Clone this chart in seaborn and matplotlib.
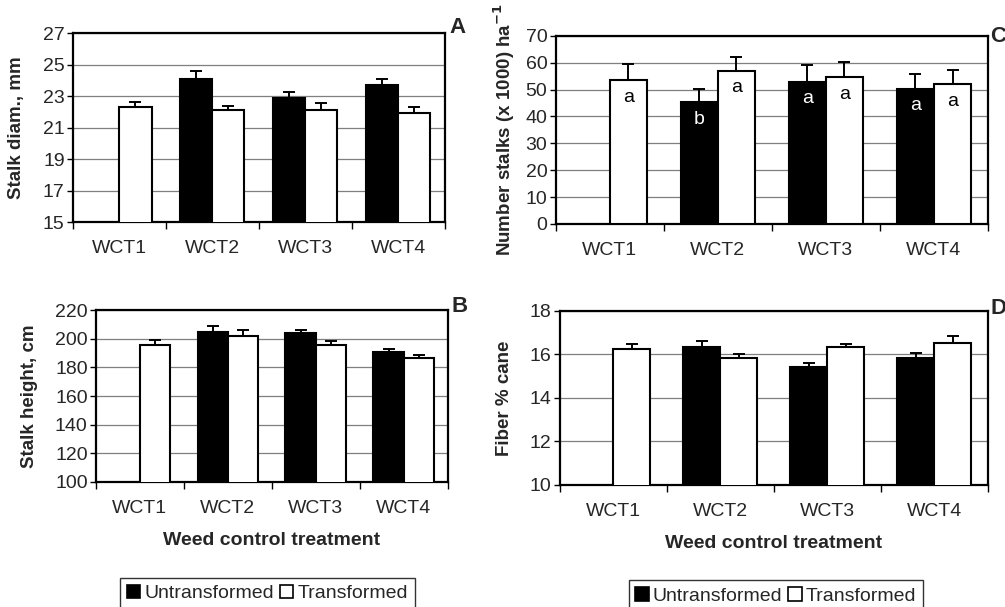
import matplotlib
matplotlib.use("Agg")
import matplotlib.pyplot as plt
from matplotlib.patches import Patch
from matplotlib.container import BarContainer
from matplotlib.ticker import FixedLocator
import seaborn as sns
import pandas as pd
import numpy as np

sns.set_theme(style="ticks")
plt.rcParams['font.family'] = ['Liberation Sans', 'DejaVu Sans']

# Data (None = no bar)
treatments = ["WCT1", "WCT2", "WCT3", "WCT4"]
groups = ["Untransformed", "Transformed"]

diam_untr = [None, 24.1, 22.9, 23.75]
diam_tran = [22.35, 22.1, 22.15, 21.95]
diam_err_untr = [None, 0.5, 0.4, 0.35]
diam_err_tran = [0.3, 0.3, 0.45, 0.4]

height_untr = [None, 204.5, 204.0, 191.0]
height_tran = [195.5, 202.0, 196.0, 186.3]
height_err_untr = [None, 4.5, 2.5, 2.2]
height_err_tran = [3.5, 4.0, 2.2, 2.6]

stalks_untr = [None, 45.3, 53.0, 50.4]
stalks_tran = [53.4, 57.0, 54.7, 52.1]
stalks_err_untr = [None, 5.0, 6.1, 5.3]
stalks_err_tran = [6.0, 5.2, 5.6, 5.0]
stalks_letters_untr = [None, "b", "a", "a"]
stalks_letters_tran = ["a", "a", "a", "a"]

fiber_untr = [None, 16.33, 15.43, 15.81]
fiber_tran = [16.24, 15.81, 16.32, 16.53]
fiber_err_untr = [None, 0.27, 0.17, 0.25]
fiber_err_tran = [0.23, 0.19, 0.15, 0.31]

FS = 14


def make_df(untr, tran, err_u, err_t):
    rows = []
    for i, t in enumerate(treatments):
        if untr[i] is not None:
            rows.append((t, "Untransformed", untr[i], err_u[i]))
        if tran[i] is not None:
            rows.append((t, "Transformed", tran[i], err_t[i]))
    return pd.DataFrame(rows, columns=["treatment", "type", "value", "err"])


def draw_panel(ax, df, ylim, yticks, ylabel, xlabel=None, letters=None):
    sns.barplot(data=df, x="treatment", y="value", hue="type",
                order=treatments, hue_order=groups,
                palette={"Untransformed": "black", "Transformed": "white"},
                edgecolor="black", linewidth=1.5, width=0.69,
                errorbar=None, legend=False, ax=ax, zorder=3)
    bars = [b for c in ax.containers if isinstance(c, BarContainer) for b in c]
    # one-sided error bars and letters, matched to bars by position
    for bar in bars:
        h = bar.get_height()
        if np.isnan(h):
            continue
        xc = bar.get_x() + bar.get_width() / 2
        ci = int(round(xc))
        gname = "Untransformed" if xc < ci else "Transformed"
        row = df[(df.treatment == treatments[ci]) & (df.type == gname)]
        e = row.err.values[0]
        ax.errorbar(xc, bar.get_y() + h, yerr=[[0], [e]], fmt="none",
                    ecolor="black", elinewidth=1.4, capsize=4.5,
                    capthick=1.4, zorder=4)
        if letters is not None:
            lab = letters[gname][ci]
            if lab:
                ax.text(xc, h - 3.2, lab, ha="center", va="top",
                        fontsize=FS,
                        color="white" if gname == "Untransformed" else "black",
                        zorder=5)
    ax.set_ylim(*ylim)
    ax.set_yticks(yticks)
    ax.set_xlim(-0.5, 3.5)
    ax.yaxis.grid(True, color="#7f7f7f", linewidth=0.9, zorder=0)
    ax.xaxis.grid(False)
    ax.set_axisbelow(True)
    for s in ax.spines.values():
        s.set_visible(True)
        s.set_color("black")
        s.set_linewidth(1.6)
    ax.tick_params(axis="y", labelsize=FS, length=4, width=1, pad=2,
                   color="black")
    ax.tick_params(axis="x", which="major", labelsize=FS, length=0, pad=13)
    ax.xaxis.set_minor_locator(FixedLocator([-0.5, 0.5, 1.5, 2.5, 3.5]))
    ax.tick_params(axis="x", which="minor", length=5, width=1,
                   direction="out", color="black")
    ax.set_ylabel(ylabel, fontsize=13.5, fontweight="bold")
    if xlabel:
        ax.set_xlabel(xlabel, fontsize=14, fontweight="bold", labelpad=11)
    else:
        ax.set_xlabel("")


fig = plt.figure(figsize=(10.05, 6.07), dpi=100)
fig.patch.set_facecolor("white")

axA = fig.add_axes([0.0726, 0.634, 0.370, 0.311])
axC = fig.add_axes([0.553, 0.631, 0.430, 0.310])
axB = fig.add_axes([0.0955, 0.206, 0.350, 0.283])
axD = fig.add_axes([0.557, 0.201, 0.426, 0.287])

draw_panel(axA, make_df(diam_untr, diam_tran, diam_err_untr, diam_err_tran),
           (15, 27), [15, 17, 19, 21, 23, 25, 27], "Stalk diam., mm")
draw_panel(axC, make_df(stalks_untr, stalks_tran, stalks_err_untr, stalks_err_tran),
           (0, 70), [0, 10, 20, 30, 40, 50, 60, 70],
           "Number stalks (x 1000) ha$^{\\mathbf{-1}}$",
           letters={"Untransformed": stalks_letters_untr,
                    "Transformed": stalks_letters_tran})
draw_panel(axB, make_df(height_untr, height_tran, height_err_untr, height_err_tran),
           (100, 220), [100, 120, 140, 160, 180, 200, 220], "Stalk height, cm",
           xlabel="Weed control treatment")
draw_panel(axD, make_df(fiber_untr, fiber_tran, fiber_err_untr, fiber_err_tran),
           (10, 18), [10, 12, 14, 16, 18], "Fiber % cane",
           xlabel="Weed control treatment")

axA.yaxis.set_label_coords(-0.129, 0.5)
axB.yaxis.set_label_coords(-0.165, 0.5)
axC.yaxis.set_label_coords(-0.09, 0.5)
axD.yaxis.set_label_coords(-0.11, 0.5)

# panel letters
fig.text(0.447, 0.955, "A", fontsize=16, fontweight="bold", ha="left", va="center")
fig.text(0.985, 0.940, "C", fontsize=16, fontweight="bold", ha="left", va="center")
fig.text(0.449, 0.495, "B", fontsize=16, fontweight="bold", ha="left", va="center")
fig.text(0.986, 0.492, "D", fontsize=16, fontweight="bold", ha="left", va="center")

handles = [Patch(facecolor="black", edgecolor="black", linewidth=1.2),
           Patch(facecolor="white", edgecolor="black", linewidth=1.2)]
for xc, ytop in ((0.266, 0.048), (0.772, 0.044)):
    leg = fig.legend(handles, groups, loc="upper center",
                     bbox_to_anchor=(xc, ytop), ncol=2, fontsize=14,
                     frameon=True, fancybox=False, edgecolor="black",
                     handlelength=0.7, handleheight=0.7, handletextpad=0.2,
                     columnspacing=0.3, borderpad=0.35, borderaxespad=0)
    leg.get_frame().set_linewidth(1.0)

fig.savefig("out.png", dpi=100, facecolor="white")
